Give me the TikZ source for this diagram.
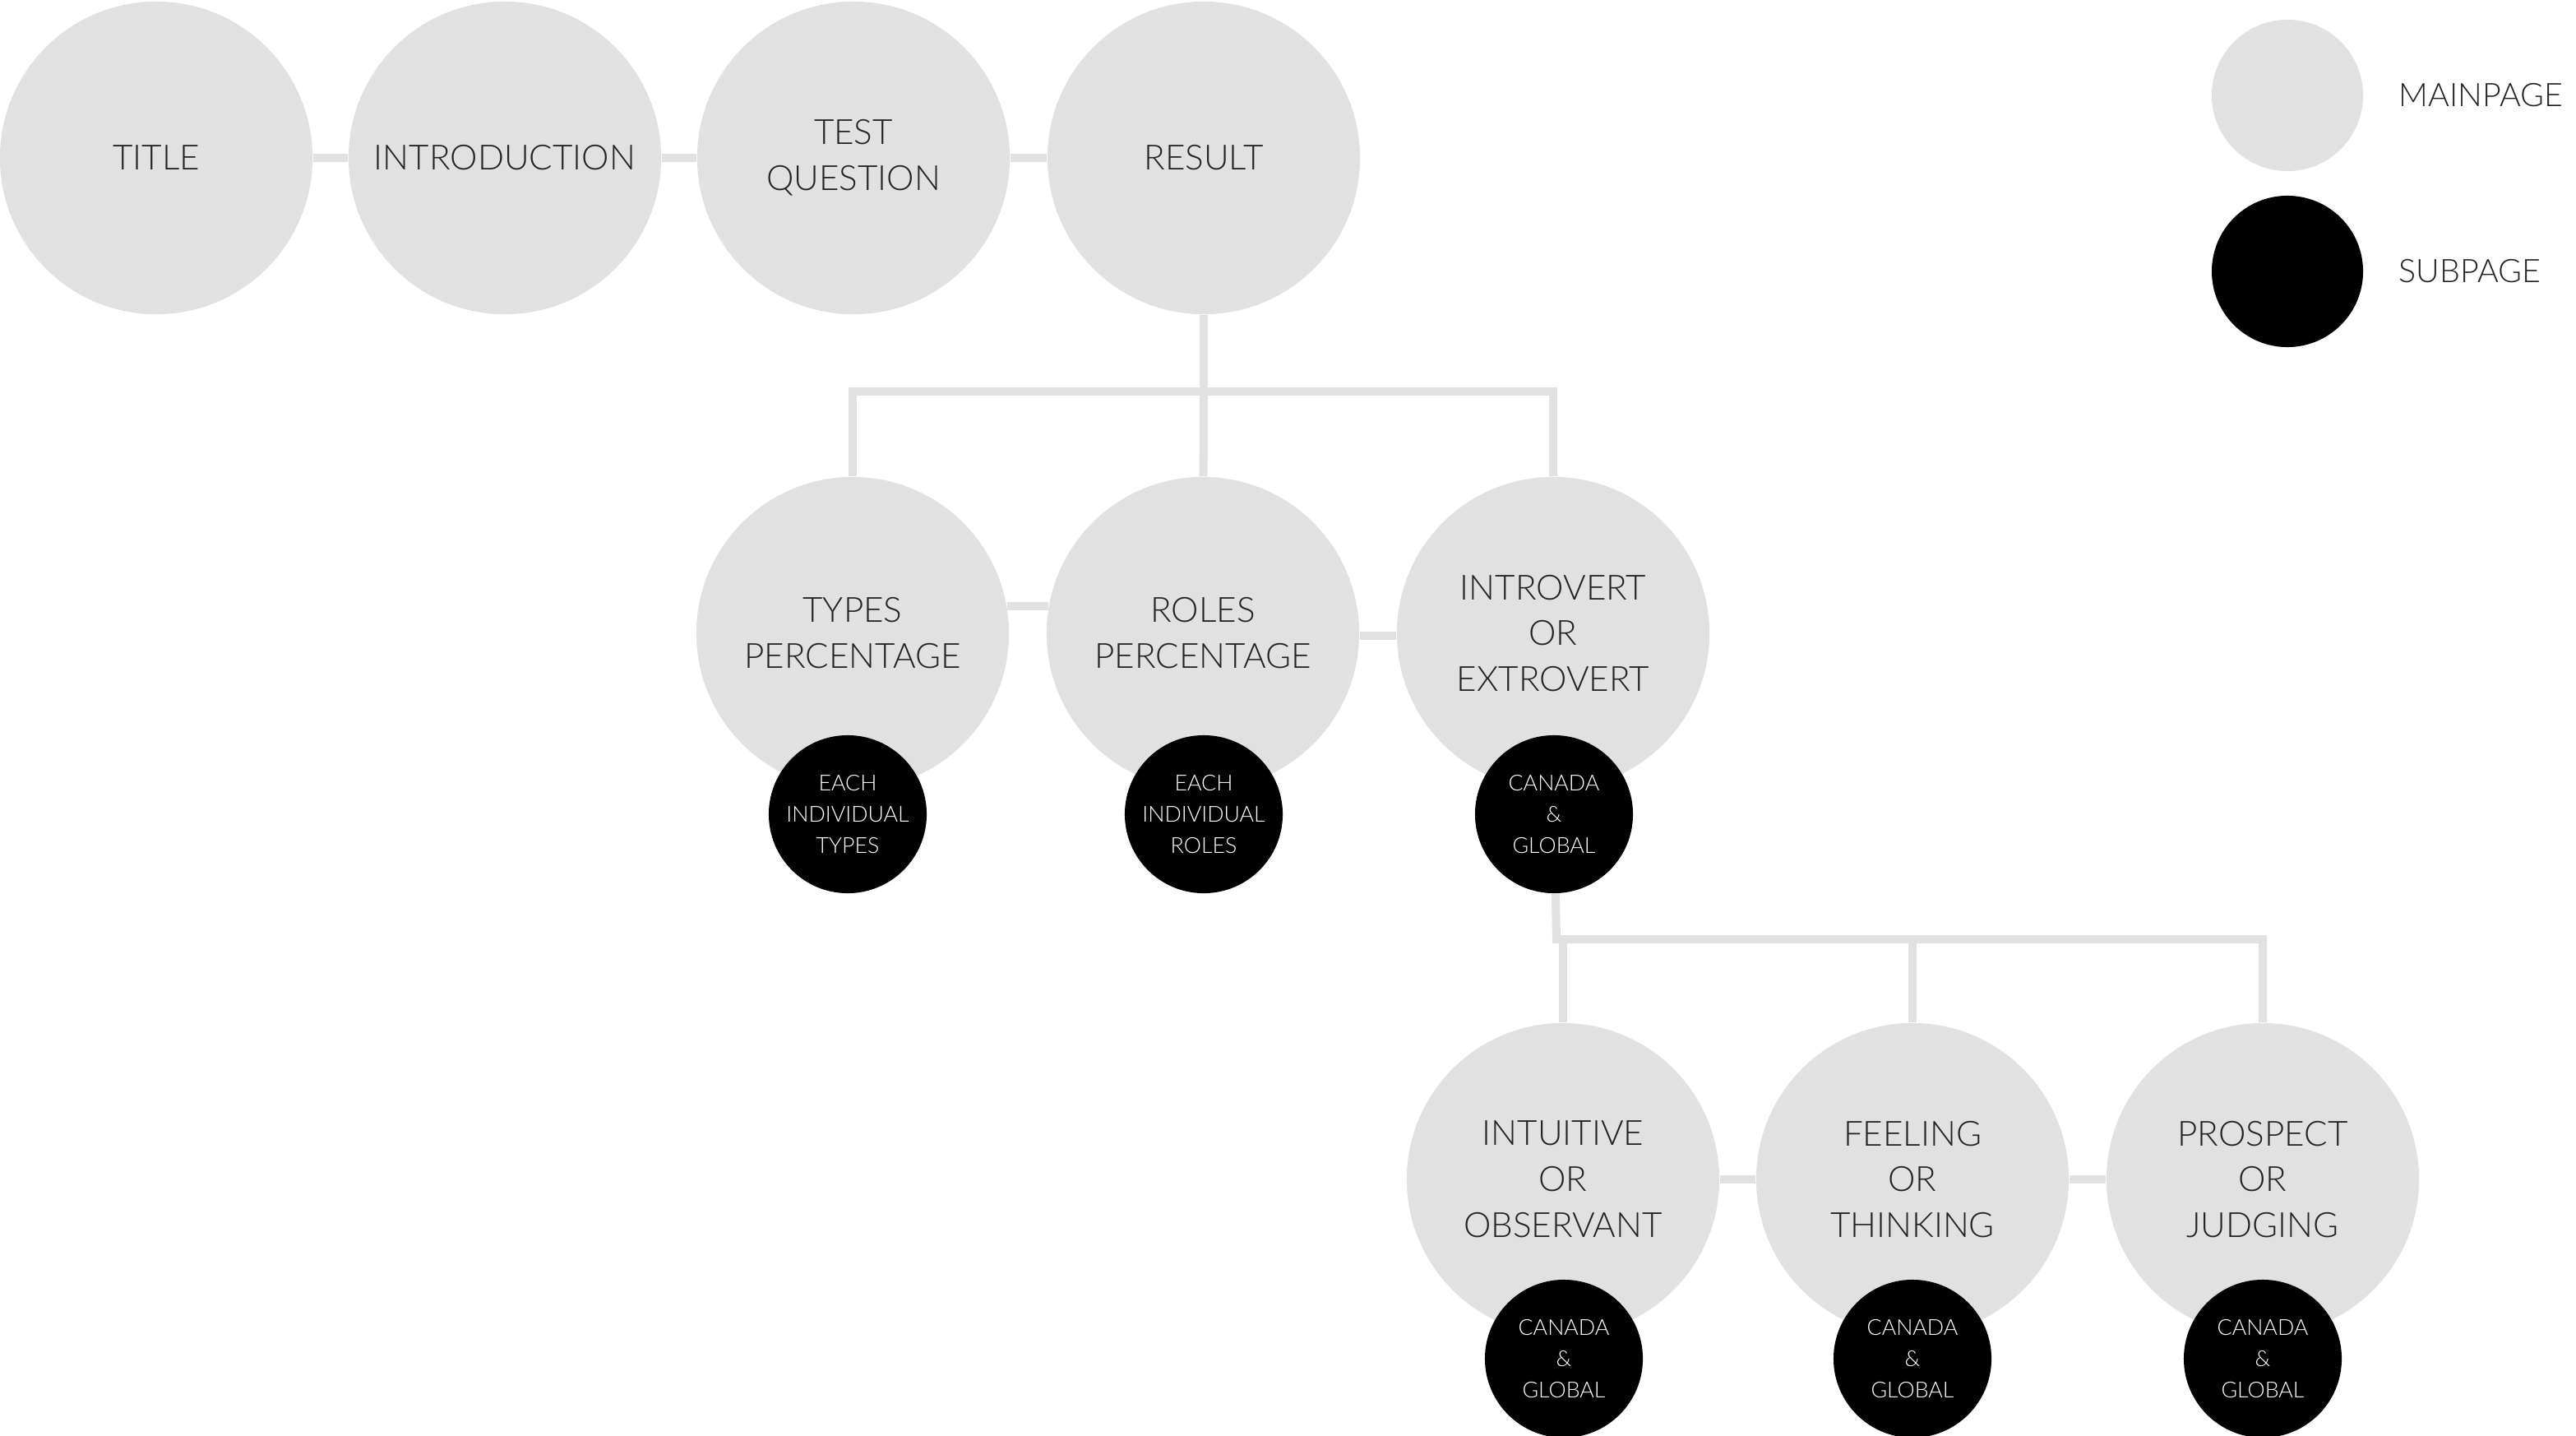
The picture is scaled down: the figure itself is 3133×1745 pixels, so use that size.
\documentclass[tikz,border=0pt]{standalone}
\usepackage{fontspec}
\setmainfont{Lato Light}
\usetikzlibrary{positioning}
\definecolor{pagegray}{RGB}{225,225,225}
\definecolor{labelgray}{RGB}{35,35,35}
\tikzstyle{mainpage}=[circle, fill=pagegray, minimum size=3.8cm, inner sep=0pt, align=center, text=labelgray, font=\fontsize{12}{15.9}\selectfont]
\tikzstyle{subpage}=[circle, fill=black, minimum size=1.92cm, inner sep=0pt, align=center, text=white, font=\fontsize{7.6}{10.8}\selectfont]
\tikzstyle{keytext}=[anchor=west, inner sep=0pt, text=labelgray, font=\fontsize{11.2}{13}\selectfont]
\tikzstyle{link}=[draw=pagegray, line width=2.85pt]

\begin{document}
\begin{tikzpicture}[x=0.01cm, y=-0.01cm]
\useasboundingbox (0,0) rectangle (3133,1745);
\node[mainpage] (title) at (190,192) {TITLE};
\node[mainpage] (intro) at (614,192) {INTRODUCTION};
\node[mainpage] (test) at (1038,192) {TEST\\QUESTION};
\node[mainpage] (result) at (1464,192) {RESULT};
\node[mainpage] (types) at (1037,770) {TYPES\\PERCENTAGE};
\node[mainpage] (roles) at (1463,770) {ROLES\\PERCENTAGE};
\node[mainpage] (ie) at (1889,770) {INTROVERT\\OR\\EXTROVERT};
\node[subpage] (typesSub) at (1031,990) {EACH\\INDIVIDUAL\\TYPES};
\node[subpage] (rolesSub) at (1464,990) {EACH\\INDIVIDUAL\\ROLES};
\node[subpage] (ieSub) at (1890,990) {CANADA\\\&\\GLOBAL};
\node[mainpage] (io) at (1901,1434) {INTUITIVE\\OR\\OBSERVANT};
\node[mainpage] (ft) at (2326,1434) {FEELING\\OR\\THINKING};
\node[mainpage] (pj) at (2752,1434) {PROSPECT\\OR\\JUDGING};
\node[subpage] (ioSub) at (1902,1652) {CANADA\\\&\\GLOBAL};
\node[subpage] (ftSub) at (2326,1652) {CANADA\\\&\\GLOBAL};
\node[subpage] (pjSub) at (2752,1652) {CANADA\\\&\\GLOBAL};
\node[mainpage, minimum size=1.84cm] (keyMain) at (2782,116) {};
\node[subpage, minimum size=1.84cm] (keySub) at (2782,330) {};
\node[keytext] (keyMainText) at (2917,116) {MAINPAGE};
\node[keytext] (keySubText) at (2917,330) {SUBPAGE};
\coordinate (resultFork) at (1464,476);
\coordinate (ieFork) at (1893,1142);
\draw[link](title)--(intro);\draw[link](intro)--(test);\draw[link](test)--(result);
\draw[link](result)--(resultFork)-|(types);\draw[link](resultFork)-|(ie);\draw[link](resultFork)--(roles);
\draw[link](types.10)--(roles.170);\draw[link](roles.-1.5)--(ie.181.5);
\draw[link](ieSub)--(ieFork)-|(pj);\draw[link](ieFork)-|(io);\draw[link](ieFork)-|(ft);
\draw[link](io)--(ft);\draw[link](ft)--(pj);
\end{tikzpicture}
\end{document}
